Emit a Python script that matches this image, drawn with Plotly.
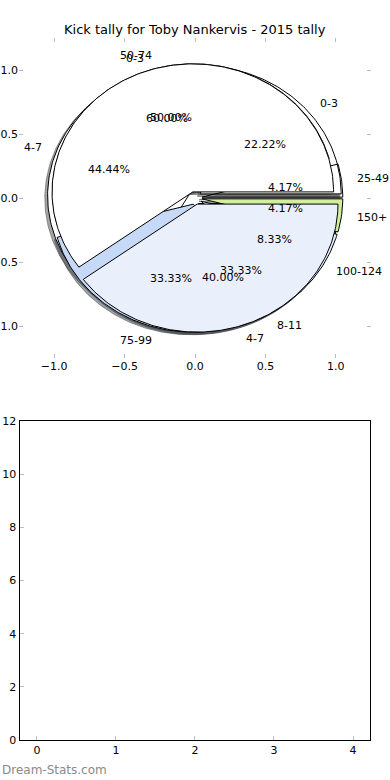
import numpy as np
import plotly.graph_objects as go

title_text = "Kick tally for Toby Nankervis - 2015 tally"

# Pie 1 (drawn first)
p1_labels = ["0-3", "4-7", "8-11"]
p1_values = [2, 4, 3]
p1_colors = ["#ffffff", "#ffffff", "#eaf0fb"]

# Pie 2
p2_labels = ["25-49", "50-74", "75-99", "100-124", "150+"]
p2_values = [1, 12, 8, 2, 1]
p2_colors = ["rgba(255,255,255,0)", "#ffffff", "#c6d9f7", "#eaf0fb", "#d3ee9c"]

# Pie 3 (drawn last)
p3_labels = ["0-3", "4-7"]
p3_values = [3, 2]
p3_colors = ["#ffffff", "#eaf0fb"]

pies = [(p1_labels, p1_values, p1_colors),
        (p2_labels, p2_values, p2_colors),
        (p3_labels, p3_values, p3_colors)]

EXPLODE = 0.05
RADIUS = 1.0
LABEL_DIST = 1.1
PCT_DIST = 0.6
SHADOW_DX, SHADOW_DY = -0.02, -0.02

x_ticks = [-1.0, -0.5, 0.0, 0.5, 1.0]
y_ticks = [-1.0, -0.5, 0.0, 0.5, 1.0]
pie_tick_text = ["\u22121.0", "\u22120.5", "0.0", "0.5", "1.0"]
x2_ticks = [0, 1, 2, 3, 4]
y2_ticks = [0, 2, 4, 6, 8, 10, 12]

FONT = "DejaVu Sans"


def hex_to_rgb(c):
    if c.startswith("rgba"):
        v = c[c.index("(") + 1:c.index(")")].split(",")
        return [float(v[0]), float(v[1]), float(v[2])], float(v[3])
    c = c.lstrip("#")
    return [int(c[i:i + 2], 16) for i in (0, 2, 4)], 1.0


def build_wedges(values):
    total = float(sum(values))
    t1 = 0.0
    res = []
    for v in values:
        f = v / total
        t2 = t1 + f
        tm = np.pi * (t1 + t2)
        cx = EXPLODE * np.cos(tm)
        cy = EXPLODE * np.sin(tm)
        n = max(int(f * 360), 2) + 1
        th = np.linspace(2 * np.pi * t1, 2 * np.pi * t2, n)
        xs = np.concatenate([[cx], cx + RADIUS * np.cos(th), [cx]])
        ys = np.concatenate([[cy], cy + RADIUS * np.sin(th), [cy]])
        res.append(dict(xs=xs, ys=ys, cx=cx, cy=cy, tm=tm, f=f))
        t1 = t2
    return res


fig = go.Figure()
annotations = []

all_w = [build_wedges(vals) for (_, vals, _) in pies]

# shadows (below every wedge)
for (labels, vals, cols), ws in zip(pies, all_w):
    for w, c in zip(ws, cols):
        rgb, a = hex_to_rgb(c)
        sc = "rgba(%d,%d,%d,0.5)" % (0.3 * rgb[0], 0.3 * rgb[1], 0.3 * rgb[2])
        fig.add_trace(go.Scatter(x=w["xs"] + SHADOW_DX, y=w["ys"] + SHADOW_DY, mode="lines",
                                 fill="toself", fillcolor=sc, line=dict(color=sc, width=1),
                                 hoverinfo="skip", showlegend=False, xaxis="x", yaxis="y"))

# wedges and texts
for (labels, vals, cols), ws in zip(pies, all_w):
    for w, c, lab in zip(ws, cols, labels):
        fig.add_trace(go.Scatter(x=w["xs"], y=w["ys"], mode="lines", fill="toself",
                                 fillcolor=c, line=dict(color="black", width=1),
                                 hoverinfo="skip", showlegend=False, xaxis="x", yaxis="y"))
        lx = w["cx"] + LABEL_DIST * RADIUS * np.cos(w["tm"])
        ly = w["cy"] + LABEL_DIST * RADIUS * np.sin(w["tm"])
        annotations.append(dict(x=lx, y=ly, xref="x", yref="y", text=lab, showarrow=False,
                                xanchor="left" if lx > 0 else "right", yanchor="middle",
                                font=dict(family=FONT, size=11, color="black"), borderpad=0))
        px = w["cx"] + PCT_DIST * RADIUS * np.cos(w["tm"])
        py = w["cy"] + PCT_DIST * RADIUS * np.sin(w["tm"])
        annotations.append(dict(x=px, y=py, xref="x", yref="y", text="%.2f%%" % (100 * w["f"]),
                                showarrow=False, xanchor="center", yanchor="middle",
                                font=dict(family=FONT, size=11, color="black"), borderpad=0))

# empty lower panel
fig.add_trace(go.Scatter(x=[], y=[], mode="markers", xaxis="x2", yaxis="y2",
                         showlegend=False, hoverinfo="skip"))

annotations.append(dict(x=0.5, y=1 - 30 / 780, xref="paper", yref="paper", text=title_text,
                        showarrow=False, xanchor="center", yanchor="middle",
                        font=dict(family=FONT, size=13, color="black")))
annotations.append(dict(x=0.0, y=1 - 770 / 780, xref="paper", yref="paper", text="Dream-Stats.com",
                        showarrow=False, xanchor="left", yanchor="middle",
                        font=dict(family=FONT, size=12, color="#8a8a8a")))

tickfont = dict(family=FONT, size=11, color="black")
common = dict(ticks="inside", ticklen=4, tickcolor="#bdbdbd", tickwidth=1, showgrid=False,
              zeroline=False, tickfont=tickfont, fixedrange=True, automargin=False)
fig.update_layout(
    width=390, height=780, margin=dict(l=0, r=0, t=0, b=0, autoexpand=False),
    paper_bgcolor="white", plot_bgcolor="white", showlegend=False,
    annotations=annotations,
    xaxis=dict(domain=[19 / 390, 371 / 390], range=[-1.25, 1.25], anchor="y",
               tickvals=x_ticks, ticktext=pie_tick_text, mirror="ticks", showline=False, **common),
    yaxis=dict(domain=[1 - 358 / 780, 1 - 38 / 780], range=[-1.25, 1.25], anchor="x",
               tickvals=y_ticks, ticktext=pie_tick_text, mirror="ticks", showline=False, **common),
    xaxis2=dict(domain=[19.5 / 390, 370 / 390], range=[-0.22, 4.215], anchor="y2",
                tickvals=x2_ticks, mirror=True, showline=True, linecolor="black", linewidth=1,
                **common),
    yaxis2=dict(domain=[1 - 740 / 780, 1 - 421 / 780], range=[0, 12], anchor="x2",
                tickvals=y2_ticks, mirror=True, showline=True, linecolor="black", linewidth=1,
                **common),
)

fig.write_html("out.html", config={"displayModeBar": False},
               post_script="document.body.style.margin='0';document.body.style.padding='0';"
                           "document.body.style.overflow='hidden';")
